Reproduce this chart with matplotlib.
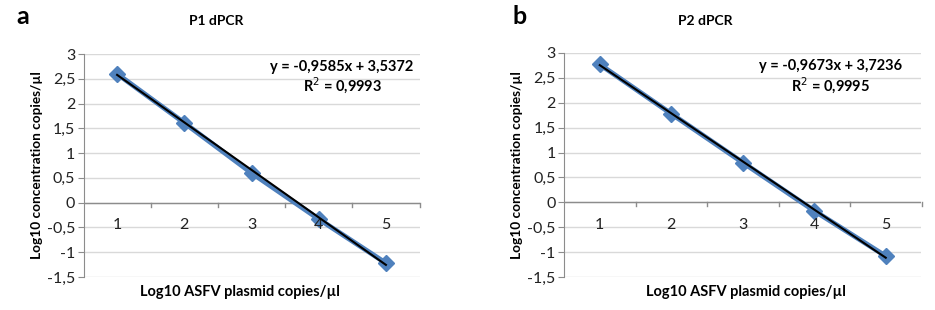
import numpy as np
import matplotlib.pyplot as plt
from matplotlib.ticker import FuncFormatter

plt.rcParams['font.family'] = ['Lato', 'DejaVu Sans']

# data
x_vals = [1, 2, 3, 4, 5]
p1_vals = [2.6, 1.61, 0.6, -0.33, -1.22]
p2_vals = [2.77, 1.78, 0.8, -0.17, -1.08]
p1_fit = (-0.9585, 3.5372)
p2_fit = (-0.9673, 3.7236)
p1_text = ['y = -0,9585x + 3,5372', 'R$^2$ = 0,9993']
p2_text = ['y = -0,9673x + 3,7236', 'R$^2$ = 0,9995']
y_ticks = [-1.5, -1, -0.5, 0, 0.5, 1, 1.5, 2, 2.5, 3]

blue = '#4f81bd'
grid_col = '#d9d9d9'
axis_col = '#8c8c8c'


def comma(v, pos):
    s = ('%g' % v).replace('.', ',')
    return s


def draw(ax, y, fit, eq, eq_x, r2_x, title_x, title, letter, letter_x, xlab_x):
    x = np.array(x_vals)
    ax.plot(x, y, color=blue, lw=3.6, marker='D', ms=8, zorder=3)
    xf = np.array([1, 5])
    ax.plot(xf, fit[0] * xf + fit[1], color='black', lw=1.5, zorder=4)

    ax.set_xlim(0.5, 5.5)
    ax.set_ylim(-1.5, 3)
    ax.set_yticks(y_ticks)
    ax.yaxis.set_major_formatter(FuncFormatter(comma))
    ax.grid(axis='y', color=grid_col, lw=1)
    ax.set_axisbelow(True)
    for s in ['top', 'right', 'bottom']:
        ax.spines[s].set_visible(False)
    ax.spines['left'].set_color(axis_col)
    ax.tick_params(axis='y', colors='#222222', labelsize=11.5, length=4, color=axis_col, pad=2)

    # category axis at y = 0
    ax.axhline(0, color=axis_col, lw=1, zorder=2)
    ax.set_xticks([])
    for b in [1.5, 2.5, 3.5, 4.5, 5.5]:
        ax.plot([b, b], [0, -0.08], color=axis_col, lw=1, clip_on=False, zorder=2)
    for xi in x_vals:
        ax.text(xi, -0.45, str(xi), ha='center', va='center', fontsize=11.5, color='#222222')

    ax.text(eq_x, 0.94, eq[0], transform=ax.transAxes, ha='right', va='center',
            fontsize=10.5, fontweight='bold')
    ax.text(r2_x, 0.855, eq[1], transform=ax.transAxes, ha='center', va='center',
            fontsize=10.5, fontweight='bold')

    ax.set_ylabel('Log10 concentration copies/µl', fontsize=9.8, fontweight='bold', labelpad=3)
    fig.text(xlab_x / 935, 1 - 292 / 310, 'Log10 ASFV plasmid copies/µl', ha='center',
             va='center', fontsize=10.5, fontweight='bold')
    fig.text(title_x / 935, 1 - 21 / 310, title, ha='center', va='center',
             fontsize=10, fontweight='bold')
    fig.text(letter_x / 935, 1 - 17 / 310, letter, ha='center', va='center',
             fontsize=18, fontweight='bold')


fig = plt.figure(figsize=(9.35, 3.1), dpi=100)
ax1 = fig.add_axes([83.5 / 935, 1 - 277 / 310, 336 / 935, 223 / 310])
ax2 = fig.add_axes([564 / 935, 1 - 277 / 310, 357.5 / 935, 224 / 310])

draw(ax1, p1_vals, p1_fit, p1_text, 0.98, 0.77, 216, 'P1 dPCR', 'a', 23, 240)
draw(ax2, p2_vals, p2_fit, p2_text, 0.945, 0.745, 705, 'P2 dPCR', 'b', 520, 746)

fig.savefig('out.png', dpi=100)
